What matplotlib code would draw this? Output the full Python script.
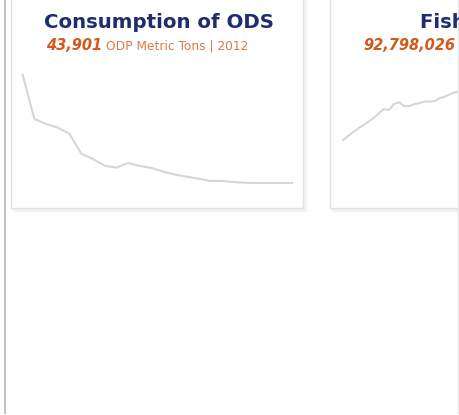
import matplotlib
matplotlib.use("Agg")
import matplotlib.pyplot as plt
from matplotlib.patches import Rectangle
from matplotlib.lines import Line2D

# ODS consumption, ODP metric tons
ods_years = list(range(1989, 2013))
ods_values = [368000, 236000, 221000, 210000, 191000, 132000, 116000, 96000,
              90000, 104000, 95000, 89000, 78000, 69000, 63000, 57000,
              50000, 50000, 47000, 44500, 44000, 44000, 43900, 43901]

# fish catch, metric tons (only the first part is visible)
fish_years = list(range(1960, 2013))
fish_values = [34.8, 37.9, 41.0, 43.8, 46.5, 49.2, 52.0, 55.5, 59.0, 58.2,
               63.0, 64.4, 61.3, 61.3, 62.9, 63.7, 64.9, 64.9, 65.3, 67.6,
               68.8, 70.7, 72.3, 72.5, 78.0, 80.0, 84.0, 85.0, 89.0, 90.0,
               86.0, 85.5, 86.5, 88.0, 93.0, 92.5, 94.0, 94.5, 88.0, 93.0,
               95.0, 92.0, 92.5, 90.0, 94.0, 93.0, 90.0, 90.5, 90.0, 89.5,
               89.0, 93.0, 92.798026]
fish_values = [v * 1e6 for v in fish_values]

titles = ["Consumption of ODS", "Fish Catch"]
big_numbers = ["43,901", "92,798,026"]
units = ["ODP Metric Tons | 2012", "Metric Tons | 2012"]

W, H = 459, 415
fig = plt.figure(figsize=(W / 100, H / 100), dpi=100)
fig.patch.set_facecolor("white")


def fx(px):
    return px / W


def fy(py):
    return 1 - py / H


# outer frame lines
fig.add_artist(Line2D([fx(5), fx(5)], [fy(-5), fy(413)], color="#c4c4c4", lw=1.5))
fig.add_artist(Line2D([fx(458), fx(458)], [fy(-5), fy(413)], color="#e6e6e6", lw=1.0))

navy = "#1e2d6e"
orange = "#d4581a"
line_col = "#d6d6d6"

panels = [
    dict(x0=11, x1=303, lx0=22.7, lx1=292, top=75, bottom=183),
    dict(x0=330, x1=622, lx0=343, lx1=608, top=60, bottom=183),
]
series = [(ods_years, ods_values), (fish_years, fish_values)]
num_x = [46, 363]
unit_x = [106, 462]

for i, p in enumerate(panels):
    # card with a soft shadow
    fig.add_artist(Rectangle((fx(p["x0"] + 1.5), fy(209.5)), fx(p["x1"] - p["x0"]), fy(-5) - fy(209.5),
                             transform=fig.transFigure, facecolor="none",
                             edgecolor="#f2f2f2", lw=2.5, zorder=-2))
    fig.add_artist(Rectangle((fx(p["x0"]), fy(208)), fx(p["x1"] - p["x0"]), fy(-5) - fy(208),
                             transform=fig.transFigure, facecolor="white",
                             edgecolor="#e2e2e2", lw=1.0, zorder=-1))
    cx = (p["x0"] + p["x1"]) / 2
    fig.text(fx(cx + 2), fy(28), titles[i], ha="center", va="baseline",
             fontsize=14.2, fontweight="heavy", color=navy, family="DejaVu Sans")
    fig.text(fx(num_x[i]), fy(50), big_numbers[i], ha="left", va="baseline",
             fontsize=10.5, fontweight="bold", style="italic", color=orange,
             family="DejaVu Sans")
    fig.text(fx(unit_x[i]), fy(50), units[i], ha="left",
             va="baseline", fontsize=8.8, color=orange, alpha=0.8, family="DejaVu Sans")

    years, vals = series[i]
    if i == 0:
        ylim = (min(vals), max(vals))
    else:
        # keep fish scale matching the picture: 34.8M at px 140, 63.0M at px 104
        per_px = (63.0e6 - 34.8e6) / 36
        ylim = (34.8e6 - (183 - 140) * per_px, 34.8e6 + (140 - 60) * per_px)
    ax = fig.add_axes([fx(p["lx0"]), fy(p["bottom"]), fx(p["lx1"] - p["lx0"]),
                       fy(p["top"]) - fy(p["bottom"])])
    ax.plot(years, vals, color=line_col, lw=1.5, clip_on=False, solid_joinstyle="round")
    ax.set_xlim(years[0], years[-1])
    ax.set_ylim(*ylim)
    ax.axis("off")

fig.savefig("out.png", dpi=100)
